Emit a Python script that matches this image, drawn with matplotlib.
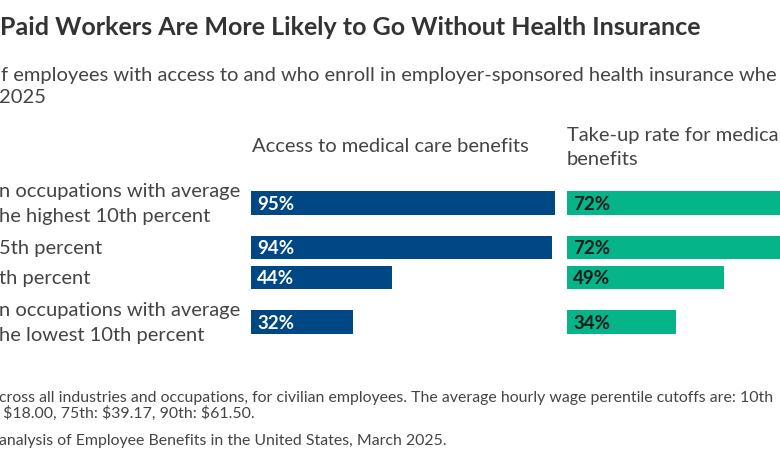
import matplotlib.pyplot as plt

W, H = 780, 470

title = "Paid Workers Are More Likely to Go Without Health Insurance"
subtitle = ["f employees with access to and who enroll in employer-sponsored health insurance whe",
            "2025"]
col_titles = [["Access to medical care benefits"],
              ["Take-up rate for medica", "benefits"]]
row_labels = [["n occupations with average", "he highest 10th percent"],
              ["5th percent"],
              ["th percent"],
              ["n occupations with average", "he lowest 10th percent"]]
access = [95, 94, 44, 32]
takeup = [72, 72, 49, 34]
notes = ["cross all industries and occupations, for civilian employees. The average hourly wage perentile cutoffs are: 10th",
         " $18.00, 75th: $39.17, 90th: $61.50.",
         "analysis of Employee Benefits in the United States, March 2025."]

BLUE = "#004785"
GREEN = "#05b489"
TXT = "#333333"
GREY = "#444444"
plt.rcParams["font.family"] = ["Lato", "DejaVu Sans"]


def fx(x):
    return x / W


def fy(y):
    return 1 - y / H


fig = plt.figure(figsize=(W / 100, H / 100), dpi=100)
fig.patch.set_facecolor("white")

# row centres (pixels from top): two-line labels get more room
ypos = [203.0]
for a, b in zip(row_labels[:-1], row_labels[1:]):
    ypos.append(ypos[-1] + 30 + 14.5 * (len(a) - 1 + len(b) - 1))

panels = [(251, access, BLUE, "white"), (567, takeup, GREEN, "#1a1a1a")]
for left, vals, color, lab_color in panels:
    ax = fig.add_axes([fx(left), 0, 320 / W, 1])
    ax.set_xlim(0, 100)
    ax.set_ylim(H, 0)
    ax.barh(ypos, vals, height=23.5, color=color)
    for y, v in zip(ypos, vals):
        ax.text(2.0, y + 7, f"{v}%", color=lab_color, fontsize=13.5,
                fontweight="bold", va="baseline", ha="left")
    ax.axis("off")

fig.text(fx(0), fy(35), title, fontsize=18, fontweight="bold", color=TXT, va="baseline")
fig.text(fx(1), fy(81), subtitle[0], fontsize=14.5, color=GREY, va="baseline")
fig.text(fx(-1), fy(103), subtitle[1], fontsize=14.5, color=GREY, va="baseline")

fig.text(fx(252), fy(152), col_titles[0][0], fontsize=14.5, color=GREY, va="baseline")
fig.text(fx(567), fy(141), col_titles[1][0], fontsize=14.5, color=GREY, va="baseline")
fig.text(fx(567), fy(165), col_titles[1][1], fontsize=14.5, color=GREY, va="baseline")

for y, lines in zip(ypos, row_labels):
    n = len(lines)
    for k, s in enumerate(lines):
        fig.text(fx(-1), fy(y + 6.5 + 25 * (k - (n - 1) / 2)), s, fontsize=14.5,
                 color=GREY, va="baseline")

for s, y in zip(notes, [402, 418, 445]):
    fig.text(fx(-1), fy(y), s, fontsize=11.4, color=GREY, va="baseline")

fig.savefig("out.png", dpi=100)
